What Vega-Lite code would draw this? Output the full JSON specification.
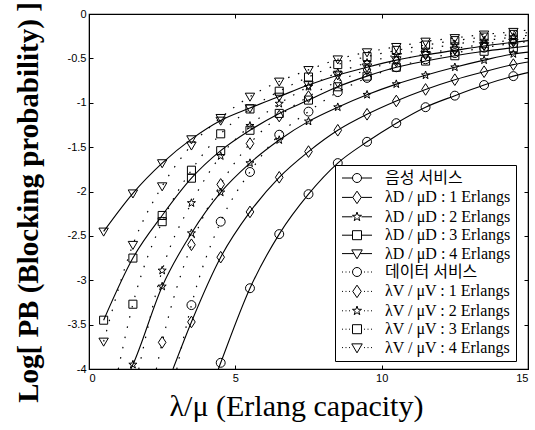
{
  "$schema": "https://vega.github.io/schema/vega-lite/v6.json",
  "width": 439,
  "height": 355,
  "autosize": {"type": "none"},
  "padding": {"left": 89, "top": 14, "right": 7, "bottom": 61},
  "background": "white",
  "config": {
    "view": {"stroke": "black", "strokeWidth": 1.2},
    "axis": {
      "grid": false,
      "domainColor": "black",
      "tickColor": "black",
      "labelColor": "black",
      "labelFont": "Liberation Sans",
      "labelFontSize": 11,
      "tickSize": -4,
      "labelPadding": 7,
      "titleColor": "black"
    }
  },
  "datasets": {
    "curves": [
      {"s": "음성 서비스", "svc": "voice", "x": 4.42, "y": -4},
      {"s": "음성 서비스", "svc": "voice", "x": 4.5, "y": -3.93},
      {"s": "음성 서비스", "svc": "voice", "x": 5.5, "y": -3.09},
      {"s": "음성 서비스", "svc": "voice", "x": 6.5, "y": -2.48},
      {"s": "음성 서비스", "svc": "voice", "x": 7.5, "y": -2.03},
      {"s": "음성 서비스", "svc": "voice", "x": 8.5, "y": -1.68},
      {"s": "음성 서비스", "svc": "voice", "x": 9.5, "y": -1.44},
      {"s": "음성 서비스", "svc": "voice", "x": 10.5, "y": -1.23},
      {"s": "음성 서비스", "svc": "voice", "x": 11.5, "y": -1.05},
      {"s": "음성 서비스", "svc": "voice", "x": 12.5, "y": -0.92},
      {"s": "음성 서비스", "svc": "voice", "x": 13.5, "y": -0.8},
      {"s": "음성 서비스", "svc": "voice", "x": 14.5, "y": -0.7},
      {"s": "음성 서비스", "svc": "voice", "x": 15, "y": -0.66},

      {"s": "λD / μD : 1 Erlangs", "svc": "voice", "x": 2.87, "y": -4},
      {"s": "λD / μD : 1 Erlangs", "svc": "voice", "x": 3.5, "y": -3.47},
      {"s": "λD / μD : 1 Erlangs", "svc": "voice", "x": 4.5, "y": -2.74},
      {"s": "λD / μD : 1 Erlangs", "svc": "voice", "x": 5.5, "y": -2.23},
      {"s": "λD / μD : 1 Erlangs", "svc": "voice", "x": 6.5, "y": -1.84},
      {"s": "λD / μD : 1 Erlangs", "svc": "voice", "x": 7.5, "y": -1.55},
      {"s": "λD / μD : 1 Erlangs", "svc": "voice", "x": 8.5, "y": -1.31},
      {"s": "λD / μD : 1 Erlangs", "svc": "voice", "x": 9.5, "y": -1.13},
      {"s": "λD / μD : 1 Erlangs", "svc": "voice", "x": 10.5, "y": -0.98},
      {"s": "λD / μD : 1 Erlangs", "svc": "voice", "x": 11.5, "y": -0.85},
      {"s": "λD / μD : 1 Erlangs", "svc": "voice", "x": 12.5, "y": -0.74},
      {"s": "λD / μD : 1 Erlangs", "svc": "voice", "x": 13.5, "y": -0.65},
      {"s": "λD / μD : 1 Erlangs", "svc": "voice", "x": 14.5, "y": -0.57},
      {"s": "λD / μD : 1 Erlangs", "svc": "voice", "x": 15, "y": -0.54},

      {"s": "λD / μD : 2 Erlangs", "svc": "voice", "x": 1.43, "y": -4},
      {"s": "λD / μD : 2 Erlangs", "svc": "voice", "x": 1.5, "y": -3.95},
      {"s": "λD / μD : 2 Erlangs", "svc": "voice", "x": 2.5, "y": -3.07},
      {"s": "λD / μD : 2 Erlangs", "svc": "voice", "x": 3.5, "y": -2.47},
      {"s": "λD / μD : 2 Erlangs", "svc": "voice", "x": 4.5, "y": -2.01},
      {"s": "λD / μD : 2 Erlangs", "svc": "voice", "x": 5.5, "y": -1.68},
      {"s": "λD / μD : 2 Erlangs", "svc": "voice", "x": 6.5, "y": -1.42},
      {"s": "λD / μD : 2 Erlangs", "svc": "voice", "x": 7.5, "y": -1.21},
      {"s": "λD / μD : 2 Erlangs", "svc": "voice", "x": 8.5, "y": -1.05},
      {"s": "λD / μD : 2 Erlangs", "svc": "voice", "x": 9.5, "y": -0.91},
      {"s": "λD / μD : 2 Erlangs", "svc": "voice", "x": 10.5, "y": -0.79},
      {"s": "λD / μD : 2 Erlangs", "svc": "voice", "x": 11.5, "y": -0.69},
      {"s": "λD / μD : 2 Erlangs", "svc": "voice", "x": 12.5, "y": -0.6},
      {"s": "λD / μD : 2 Erlangs", "svc": "voice", "x": 13.5, "y": -0.52},
      {"s": "λD / μD : 2 Erlangs", "svc": "voice", "x": 14.5, "y": -0.45},
      {"s": "λD / μD : 2 Erlangs", "svc": "voice", "x": 15, "y": -0.43},

      {"s": "λD / μD : 3 Erlangs", "svc": "voice", "x": 0.5, "y": -3.45},
      {"s": "λD / μD : 3 Erlangs", "svc": "voice", "x": 1.5, "y": -2.75},
      {"s": "λD / μD : 3 Erlangs", "svc": "voice", "x": 2.5, "y": -2.27},
      {"s": "λD / μD : 3 Erlangs", "svc": "voice", "x": 3.5, "y": -1.85},
      {"s": "λD / μD : 3 Erlangs", "svc": "voice", "x": 4.5, "y": -1.54},
      {"s": "λD / μD : 3 Erlangs", "svc": "voice", "x": 5.5, "y": -1.31},
      {"s": "λD / μD : 3 Erlangs", "svc": "voice", "x": 6.5, "y": -1.12},
      {"s": "λD / μD : 3 Erlangs", "svc": "voice", "x": 7.5, "y": -0.97},
      {"s": "λD / μD : 3 Erlangs", "svc": "voice", "x": 8.5, "y": -0.82},
      {"s": "λD / μD : 3 Erlangs", "svc": "voice", "x": 9.5, "y": -0.7},
      {"s": "λD / μD : 3 Erlangs", "svc": "voice", "x": 10.5, "y": -0.6},
      {"s": "λD / μD : 3 Erlangs", "svc": "voice", "x": 11.5, "y": -0.53},
      {"s": "λD / μD : 3 Erlangs", "svc": "voice", "x": 12.5, "y": -0.47},
      {"s": "λD / μD : 3 Erlangs", "svc": "voice", "x": 13.5, "y": -0.42},
      {"s": "λD / μD : 3 Erlangs", "svc": "voice", "x": 14.5, "y": -0.38},
      {"s": "λD / μD : 3 Erlangs", "svc": "voice", "x": 15, "y": -0.36},

      {"s": "λD / μD : 4 Erlangs", "svc": "voice", "x": 0.5, "y": -2.45},
      {"s": "λD / μD : 4 Erlangs", "svc": "voice", "x": 1.5, "y": -2.02},
      {"s": "λD / μD : 4 Erlangs", "svc": "voice", "x": 2.5, "y": -1.68},
      {"s": "λD / μD : 4 Erlangs", "svc": "voice", "x": 3.5, "y": -1.41},
      {"s": "λD / μD : 4 Erlangs", "svc": "voice", "x": 4.5, "y": -1.2},
      {"s": "λD / μD : 4 Erlangs", "svc": "voice", "x": 5.5, "y": -1.06},
      {"s": "λD / μD : 4 Erlangs", "svc": "voice", "x": 6.5, "y": -0.93},
      {"s": "λD / μD : 4 Erlangs", "svc": "voice", "x": 7.5, "y": -0.8},
      {"s": "λD / μD : 4 Erlangs", "svc": "voice", "x": 8.5, "y": -0.69},
      {"s": "λD / μD : 4 Erlangs", "svc": "voice", "x": 9.5, "y": -0.6},
      {"s": "λD / μD : 4 Erlangs", "svc": "voice", "x": 10.5, "y": -0.52},
      {"s": "λD / μD : 4 Erlangs", "svc": "voice", "x": 11.5, "y": -0.46},
      {"s": "λD / μD : 4 Erlangs", "svc": "voice", "x": 12.5, "y": -0.41},
      {"s": "λD / μD : 4 Erlangs", "svc": "voice", "x": 13.5, "y": -0.36},
      {"s": "λD / μD : 4 Erlangs", "svc": "voice", "x": 14.5, "y": -0.32},
      {"s": "λD / μD : 4 Erlangs", "svc": "voice", "x": 15, "y": -0.3},

      {"s": "데이터 서비스", "svc": "data", "x": 3.0, "y": -4},
      {"s": "데이터 서비스", "svc": "data", "x": 3.5, "y": -3.28},
      {"s": "데이터 서비스", "svc": "data", "x": 4.5, "y": -2.34},
      {"s": "데이터 서비스", "svc": "data", "x": 5.5, "y": -1.78},
      {"s": "데이터 서비스", "svc": "data", "x": 6.5, "y": -1.36},
      {"s": "데이터 서비스", "svc": "data", "x": 7.5, "y": -1.1},
      {"s": "데이터 서비스", "svc": "data", "x": 8.5, "y": -0.88},
      {"s": "데이터 서비스", "svc": "data", "x": 9.5, "y": -0.72},
      {"s": "데이터 서비스", "svc": "data", "x": 10.5, "y": -0.6},
      {"s": "데이터 서비스", "svc": "data", "x": 11.5, "y": -0.51},
      {"s": "데이터 서비스", "svc": "data", "x": 12.5, "y": -0.44},
      {"s": "데이터 서비스", "svc": "data", "x": 13.5, "y": -0.38},
      {"s": "데이터 서비스", "svc": "data", "x": 14.5, "y": -0.33},
      {"s": "데이터 서비스", "svc": "data", "x": 15, "y": -0.31},

      {"s": "λV / μV : 1 Erlangs", "svc": "data", "x": 2.3, "y": -4},
      {"s": "λV / μV : 1 Erlangs", "svc": "data", "x": 2.5, "y": -3.7},
      {"s": "λV / μV : 1 Erlangs", "svc": "data", "x": 3.5, "y": -2.6},
      {"s": "λV / μV : 1 Erlangs", "svc": "data", "x": 4.5, "y": -1.92},
      {"s": "λV / μV : 1 Erlangs", "svc": "data", "x": 5.5, "y": -1.46},
      {"s": "λV / μV : 1 Erlangs", "svc": "data", "x": 6.5, "y": -1.15},
      {"s": "λV / μV : 1 Erlangs", "svc": "data", "x": 7.5, "y": -0.93},
      {"s": "λV / μV : 1 Erlangs", "svc": "data", "x": 8.5, "y": -0.76},
      {"s": "λV / μV : 1 Erlangs", "svc": "data", "x": 9.5, "y": -0.63},
      {"s": "λV / μV : 1 Erlangs", "svc": "data", "x": 10.5, "y": -0.53},
      {"s": "λV / μV : 1 Erlangs", "svc": "data", "x": 11.5, "y": -0.45},
      {"s": "λV / μV : 1 Erlangs", "svc": "data", "x": 12.5, "y": -0.39},
      {"s": "λV / μV : 1 Erlangs", "svc": "data", "x": 13.5, "y": -0.34},
      {"s": "λV / μV : 1 Erlangs", "svc": "data", "x": 14.5, "y": -0.29},
      {"s": "λV / μV : 1 Erlangs", "svc": "data", "x": 15, "y": -0.27},

      {"s": "λV / μV : 2 Erlangs", "svc": "data", "x": 1.7, "y": -4},
      {"s": "λV / μV : 2 Erlangs", "svc": "data", "x": 2.5, "y": -2.89},
      {"s": "λV / μV : 2 Erlangs", "svc": "data", "x": 3.5, "y": -2.13},
      {"s": "λV / μV : 2 Erlangs", "svc": "data", "x": 4.5, "y": -1.6},
      {"s": "λV / μV : 2 Erlangs", "svc": "data", "x": 5.5, "y": -1.26},
      {"s": "λV / μV : 2 Erlangs", "svc": "data", "x": 6.5, "y": -1.01},
      {"s": "λV / μV : 2 Erlangs", "svc": "data", "x": 7.5, "y": -0.82},
      {"s": "λV / μV : 2 Erlangs", "svc": "data", "x": 8.5, "y": -0.66},
      {"s": "λV / μV : 2 Erlangs", "svc": "data", "x": 9.5, "y": -0.55},
      {"s": "λV / μV : 2 Erlangs", "svc": "data", "x": 10.5, "y": -0.46},
      {"s": "λV / μV : 2 Erlangs", "svc": "data", "x": 11.5, "y": -0.4},
      {"s": "λV / μV : 2 Erlangs", "svc": "data", "x": 12.5, "y": -0.34},
      {"s": "λV / μV : 2 Erlangs", "svc": "data", "x": 13.5, "y": -0.3},
      {"s": "λV / μV : 2 Erlangs", "svc": "data", "x": 14.5, "y": -0.26},
      {"s": "λV / μV : 2 Erlangs", "svc": "data", "x": 15, "y": -0.24},

      {"s": "λV / μV : 3 Erlangs", "svc": "data", "x": 1.0, "y": -4},
      {"s": "λV / μV : 3 Erlangs", "svc": "data", "x": 1.5, "y": -3.27},
      {"s": "λV / μV : 3 Erlangs", "svc": "data", "x": 2.5, "y": -2.34},
      {"s": "λV / μV : 3 Erlangs", "svc": "data", "x": 3.5, "y": -1.76},
      {"s": "λV / μV : 3 Erlangs", "svc": "data", "x": 4.5, "y": -1.35},
      {"s": "λV / μV : 3 Erlangs", "svc": "data", "x": 5.5, "y": -1.07},
      {"s": "λV / μV : 3 Erlangs", "svc": "data", "x": 6.5, "y": -0.87},
      {"s": "λV / μV : 3 Erlangs", "svc": "data", "x": 7.5, "y": -0.71},
      {"s": "λV / μV : 3 Erlangs", "svc": "data", "x": 8.5, "y": -0.57},
      {"s": "λV / μV : 3 Erlangs", "svc": "data", "x": 9.5, "y": -0.48},
      {"s": "λV / μV : 3 Erlangs", "svc": "data", "x": 10.5, "y": -0.41},
      {"s": "λV / μV : 3 Erlangs", "svc": "data", "x": 11.5, "y": -0.35},
      {"s": "λV / μV : 3 Erlangs", "svc": "data", "x": 12.5, "y": -0.3},
      {"s": "λV / μV : 3 Erlangs", "svc": "data", "x": 13.5, "y": -0.26},
      {"s": "λV / μV : 3 Erlangs", "svc": "data", "x": 14.5, "y": -0.23},
      {"s": "λV / μV : 3 Erlangs", "svc": "data", "x": 15, "y": -0.21},

      {"s": "λV / μV : 4 Erlangs", "svc": "data", "x": 0.5, "y": -3.69},
      {"s": "λV / μV : 4 Erlangs", "svc": "data", "x": 1.5, "y": -2.6},
      {"s": "λV / μV : 4 Erlangs", "svc": "data", "x": 2.5, "y": -1.94},
      {"s": "λV / μV : 4 Erlangs", "svc": "data", "x": 3.5, "y": -1.48},
      {"s": "λV / μV : 4 Erlangs", "svc": "data", "x": 4.5, "y": -1.17},
      {"s": "λV / μV : 4 Erlangs", "svc": "data", "x": 5.5, "y": -0.93},
      {"s": "λV / μV : 4 Erlangs", "svc": "data", "x": 6.5, "y": -0.76},
      {"s": "λV / μV : 4 Erlangs", "svc": "data", "x": 7.5, "y": -0.63},
      {"s": "λV / μV : 4 Erlangs", "svc": "data", "x": 8.5, "y": -0.51},
      {"s": "λV / μV : 4 Erlangs", "svc": "data", "x": 9.5, "y": -0.43},
      {"s": "λV / μV : 4 Erlangs", "svc": "data", "x": 10.5, "y": -0.37},
      {"s": "λV / μV : 4 Erlangs", "svc": "data", "x": 11.5, "y": -0.31},
      {"s": "λV / μV : 4 Erlangs", "svc": "data", "x": 12.5, "y": -0.27},
      {"s": "λV / μV : 4 Erlangs", "svc": "data", "x": 13.5, "y": -0.23},
      {"s": "λV / μV : 4 Erlangs", "svc": "data", "x": 14.5, "y": -0.2},
      {"s": "λV / μV : 4 Erlangs", "svc": "data", "x": 15, "y": -0.18}
    ]
  },
  "data": {"name": "curves"},
  "layer": [
    {
      "transform": [{"filter": "datum.svc == 'voice'"}],
      "mark": {"type": "line", "interpolate": "monotone", "color": "black", "strokeWidth": 1.1, "clip": true},
      "encoding": {
        "x": {"field": "x", "type": "quantitative", "scale": {"domain": [0, 15], "nice": false},
          "axis": {"orient": "bottom", "values": [0, 5, 10, 15], "title": "λ/μ (Erlang capacity)",
            "titleFont": "Liberation Serif, Times New Roman, serif", "titleFontSize": 30, "titleFontWeight": "normal", "titlePadding": 8, "titleX": 207}},
        "y": {"field": "y", "type": "quantitative", "scale": {"domain": [-4, 0], "nice": false},
          "axis": {"orient": "left", "values": [-4, -3.5, -3, -2.5, -2, -1.5, -1, -0.5, 0], "labelExpr": "'' + datum.value",
            "title": "Log[ PB (Blocking probability) ]", "titleFont": "Liberation Serif, Times New Roman, serif", "titleFontSize": 29, "titleFontWeight": "bold", "titlePadding": 24, "titleY": 188}},
        "detail": {"field": "s"}
      }
    },
    {
      "transform": [{"filter": "datum.svc == 'data'"}],
      "mark": {"type": "line", "interpolate": "monotone", "color": "black", "strokeWidth": 1.2, "strokeDash": [1.5, 9], "clip": true},
      "encoding": {
        "x": {"field": "x", "type": "quantitative", "scale": {"domain": [0, 15], "nice": false},
          "axis": {"orient": "top", "values": [0, 5, 10, 15], "labels": false, "title": null}},
        "y": {"field": "y", "type": "quantitative", "scale": {"domain": [-4, 0], "nice": false},
          "axis": {"orient": "right", "values": [-4, -3.5, -3, -2.5, -2, -1.5, -1, -0.5, 0], "labels": false, "title": null}},
        "detail": {"field": "s"}
      }
    },
    {
      "transform": [{"filter": "datum.y > -3.995 && datum.x < 14.9"}],
      "mark": {"type": "point", "filled": false, "color": "black", "strokeWidth": 1, "size": 80, "opacity": 1},
      "encoding": {
        "x": {"field": "x", "type": "quantitative", "scale": {"domain": [0, 15], "nice": false}, "axis": null},
        "y": {"field": "y", "type": "quantitative", "scale": {"domain": [-4, 0], "nice": false}, "axis": null},
        "shape": {"field": "s", "type": "nominal", "legend": null,
          "scale": {
            "domain": ["음성 서비스", "λD / μD : 1 Erlangs", "λD / μD : 2 Erlangs", "λD / μD : 3 Erlangs", "λD / μD : 4 Erlangs", "데이터 서비스", "λV / μV : 1 Erlangs", "λV / μV : 2 Erlangs", "λV / μV : 3 Erlangs", "λV / μV : 4 Erlangs"],
            "range": [
              "M-1,0A1,1,0,1,1,1,0A1,1,0,1,1,-1,0Z",
              "M0,-1.3L0.85,0L0,1.3L-0.85,0Z",
              "M0,-0.95L0.223,-0.307L0.904,-0.294L0.361,0.117L0.558,0.769L0,0.38L-0.558,0.769L-0.361,0.117L-0.904,-0.294L-0.223,-0.307Z",
              "M-0.9,-0.9L0.9,-0.9L0.9,0.9L-0.9,0.9Z",
              "M-1.05,-0.75L1.05,-0.75L0,1.05Z",
              "M-1,0A1,1,0,1,1,1,0A1,1,0,1,1,-1,0Z",
              "M0,-1.3L0.85,0L0,1.3L-0.85,0Z",
              "M0,-0.95L0.223,-0.307L0.904,-0.294L0.361,0.117L0.558,0.769L0,0.38L-0.558,0.769L-0.361,0.117L-0.904,-0.294L-0.223,-0.307Z",
              "M-0.9,-0.9L0.9,-0.9L0.9,0.9L-0.9,0.9Z",
              "M-1.05,-0.75L1.05,-0.75L0,1.05Z"
            ]}}
      }
    },
    {
      "transform": [{"filter": "datum.x < -100"}],
      "mark": {"type": "point", "filled": false, "color": "black", "strokeWidth": 1, "opacity": 1},
      "encoding": {
        "shape": {"field": "s", "type": "nominal",
          "scale": {
            "domain": ["음성 서비스", "λD / μD : 1 Erlangs", "λD / μD : 2 Erlangs", "λD / μD : 3 Erlangs", "λD / μD : 4 Erlangs", "데이터 서비스", "λV / μV : 1 Erlangs", "λV / μV : 2 Erlangs", "λV / μV : 3 Erlangs", "λV / μV : 4 Erlangs"],
            "range": [
              "M-3,0L-0.9,0M0.9,0L3,0M-0.9,0A0.9,0.9,0,1,1,0.9,0A0.9,0.9,0,1,1,-0.9,0Z",
              "M-3,0L-0.85,0M0.85,0L3,0M0,-1.25L0.85,0L0,1.25L-0.85,0Z",
              "M-3,0L-0.9,0M0.9,0L3,0M0,-0.95L0.223,-0.307L0.904,-0.294L0.361,0.117L0.558,0.769L0,0.38L-0.558,0.769L-0.361,0.117L-0.904,-0.294L-0.223,-0.307Z",
              "M-3,0L-0.9,0M0.9,0L3,0M-0.9,-0.9L0.9,-0.9L0.9,0.9L-0.9,0.9Z",
              "M-3,0L-0.61,0M0.61,0L3,0M-1.05,-0.75L1.05,-0.75L0,1.05Z",
              "M-3,0L-2.8,0M-2.3,0L-2.1,0M-1.6,0L-1.4,0M1.4,0L1.6,0M2.1,0L2.3,0M2.8,0L3,0M-0.9,0A0.9,0.9,0,1,1,0.9,0A0.9,0.9,0,1,1,-0.9,0Z",
              "M-3,0L-2.8,0M-2.3,0L-2.1,0M-1.6,0L-1.4,0M1.4,0L1.6,0M2.1,0L2.3,0M2.8,0L3,0M0,-1.25L0.85,0L0,1.25L-0.85,0Z",
              "M-3,0L-2.8,0M-2.3,0L-2.1,0M-1.6,0L-1.4,0M1.4,0L1.6,0M2.1,0L2.3,0M2.8,0L3,0M0,-0.95L0.223,-0.307L0.904,-0.294L0.361,0.117L0.558,0.769L0,0.38L-0.558,0.769L-0.361,0.117L-0.904,-0.294L-0.223,-0.307Z",
              "M-3,0L-2.8,0M-2.3,0L-2.1,0M-1.6,0L-1.4,0M1.4,0L1.6,0M2.1,0L2.3,0M2.8,0L3,0M-0.9,-0.9L0.9,-0.9L0.9,0.9L-0.9,0.9Z",
              "M-3,0L-2.8,0M-2.3,0L-2.1,0M-1.6,0L-1.4,0M1.4,0L1.6,0M2.1,0L2.3,0M2.8,0L3,0M-1.05,-0.75L1.05,-0.75L0,1.05Z"
            ]},
          "legend": {
            "title": null, "orient": "none", "legendX": 246, "legendY": 151,
            "strokeColor": "black", "fillColor": "white", "padding": 5,
            "labelFont": "Liberation Serif, Noto Sans CJK KR", "labelFontSize": 16, "labelColor": "black",
            "labelLimit": 300,
            "symbolSize": 100, "symbolStrokeWidth": 1, "symbolStrokeColor": "black", "symbolOpacity": 1,
            "symbolOffset": 9, "labelOffset": 20, "rowPadding": 2.4
          }
        }
      }
    }
  ],
  "resolve": {"scale": {"shape": "independent"}, "axis": {"x": "independent", "y": "independent"}}
}
